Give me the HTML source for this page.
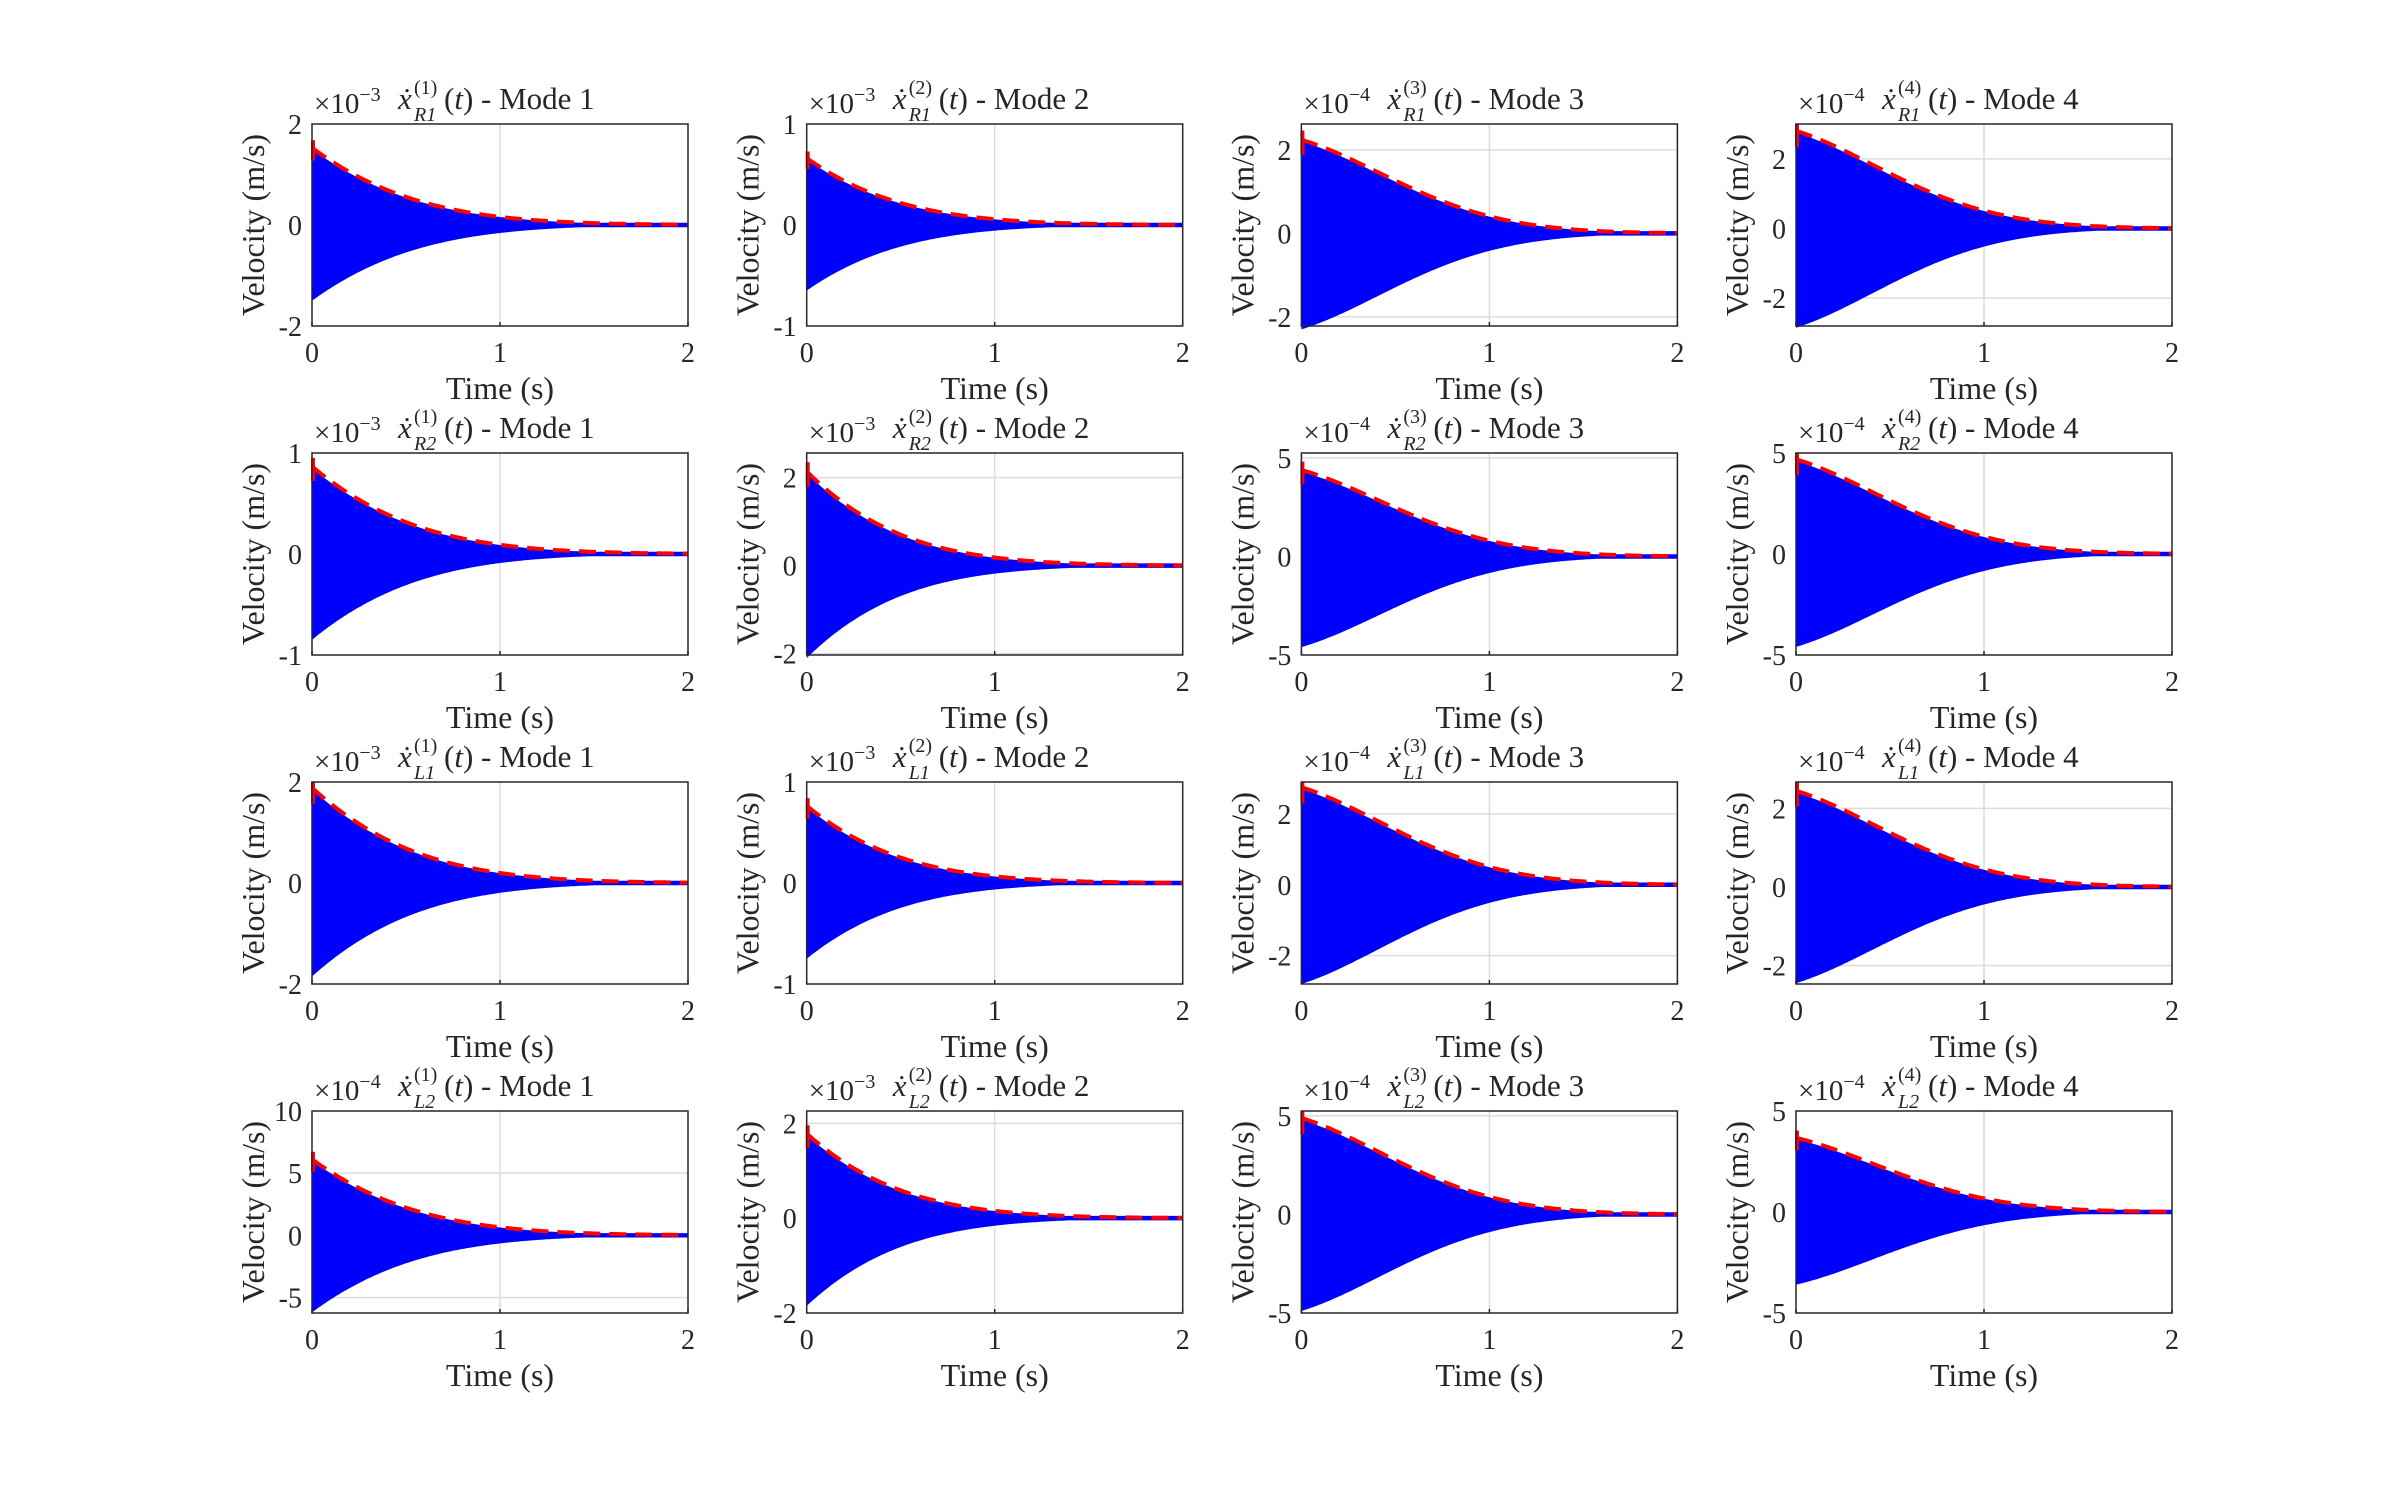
<!DOCTYPE html>
<html><head><meta charset="utf-8">
<style>
html,body{margin:0;padding:0;background:#fff;}
svg text{font-family:"Liberation Serif","DejaVu Serif",serif;fill:#262626;}
</style></head>
<body>
<svg id="s" width="2400" height="1500" xmlns="http://www.w3.org/2000/svg"></svg>
<script>
const lefts=[312,806.7,1301.4,1796], tops=[124,453,782,1111], W=376, H=202;
const P=[
 [[-2,2,[-2,0,2],1.5,1.5,'R1',1,'-3'],[-1,1,[-1,0,1],0.65,0.65,'R1',2,'-3'],[-2.22,2.62,[-2,0,2],2.2,2.3,'R1',3,'-4'],[-2.8,3.0,[-2,0,2],2.75,2.85,'R1',4,'-4']],
 [[-1,1,[-1,0,1],0.85,0.85,'R2',1,'-3'],[-2.03,2.56,[-2,0,2],2.1,2.1,'R2',2,'-3'],[-5,5.25,[-5,0,5],4.3,4.6,'R2',3,'-4'],[-5,5,[-5,0,5],4.6,4.6,'R2',4,'-4']],
 [[-2,2,[-2,0,2],1.85,1.85,'L1',1,'-3'],[-1,1,[-1,0,1],0.75,0.75,'L1',2,'-3'],[-2.8,2.9,[-2,0,2],2.7,2.8,'L1',3,'-4'],[-2.47,2.67,[-2,0,2],2.4,2.45,'L1',4,'-4']],
 [[-6.25,10,[-5,0,5,10],6.0,6.2,'L2',1,'-4'],[-2,2.26,[-2,0,2],1.75,1.85,'L2',2,'-3'],[-5,5.25,[-5,0,5],4.8,4.9,'L2',3,'-4'],[-5,5,[-5,0,5],3.6,3.6,'L2',4,'-4']]
];
function env(m,t){ if(m==1) return Math.exp(-1.8*t-0.45*t*t); if(m==2) return Math.exp(-2.0*t-0.45*t*t); return Math.exp(-0.6*t-1.1*t*t);}
let o='';
for(let r=0;r<4;r++)for(let c=0;c<4;c++){
 const [y0,y1,ticks,A,Al,lab,m,ex]=P[r][c];
 const L=lefts[c],T=tops[r],B=T+H,R=L+W;
 const X=t=>L+t/2*W, Y=v=>B-(v-y0)/(y1-y0)*H;
 o+=`<line x1="${X(1)}" y1="${T}" x2="${X(1)}" y2="${B}" stroke="#dcdcdc" stroke-width="1.5"/>`;
 ticks.forEach(v=>{ if(v>y0+0.01&&v<y1-0.01) o+=`<line x1="${L}" y1="${Y(v)}" x2="${R}" y2="${Y(v)}" stroke="#dcdcdc" stroke-width="1.5"/>`;});
 let up=[],lo=[];
 const mn=0.011*(y1-y0);
 for(let i=0;i<=200;i++){const t=i/100;const e=env(m,t);up.push(`${X(t).toFixed(1)},${Y(Math.max(A*e,mn)).toFixed(1)}`);lo.push(`${X(t).toFixed(1)},${Y(-Math.max(Al*e,mn)).toFixed(1)}`);}
 o+=`<polygon points="${up.join(' ')} ${lo.reverse().join(' ')}" fill="#0000ff"/>`;
 let rd=[];for(let i=0;i<=200;i++){const t=i/100;rd.push(`${X(t).toFixed(1)},${Y(A*1.02*env(m,t)).toFixed(1)}`);}
 o+=`<line x1="${L+1}" y1="${Y(A*0.85)}" x2="${L+1}" y2="${Y(Math.min(A*1.12,y1))}" stroke="#ff0000" stroke-width="4"/>`;
 o+=`<polyline points="${rd.join(' ')}" fill="none" stroke="#ff0000" stroke-width="4" stroke-dasharray="17,9"/>`;
 o+=`<rect x="${L}" y="${T}" width="${W}" height="${H}" fill="none" stroke="#262626" stroke-width="1.5"/>`;
 [0,1,2].forEach(t=>{o+=`<line x1="${X(t)}" y1="${B}" x2="${X(t)}" y2="${B-4}" stroke="#262626" stroke-width="1.5"/><text x="${X(t)}" y="${B+36}" font-size="28" text-anchor="middle">${t}</text>`;});
 ticks.forEach(v=>{o+=`<text x="${L-10}" y="${Y(v)+10}" font-size="28" text-anchor="end">${v<0?'-'+(-v):v}</text>`;});
 o+=`<text x="${(L+R)/2}" y="${B+73}" font-size="32" text-anchor="middle">Time (s)</text>`;
 o+=`<text transform="translate(${L-48},${(T+B)/2}) rotate(-90)" font-size="32" text-anchor="middle">Velocity (m/s)</text>`;
 o+=`<text x="${L+2}" y="${T-11}" font-size="29">×10<tspan font-size="20" dy="-12">−${ex.slice(1)}</tspan></text>`;
 const tx=L+86;
 o+=`<text x="${tx}" y="${T-15}" font-size="31" font-style="italic">ẋ</text>`;
 o+=`<text x="${tx+16}" y="${T-30}" font-size="20">(${m})</text>`;
 o+=`<text x="${tx+16}" y="${T-3}" font-size="20" font-style="italic">${lab}</text>`;
 o+=`<text x="${tx+46}" y="${T-15}" font-size="31">(<tspan font-style="italic">t</tspan>) - Mode ${m}</text>`;
}
document.getElementById('s').innerHTML=o;
</script>
</body></html>
